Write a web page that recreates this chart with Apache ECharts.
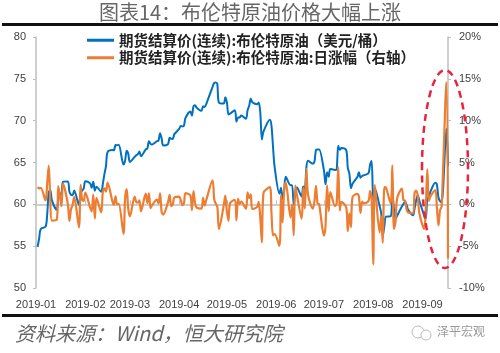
<!DOCTYPE html>
<html><head><meta charset="utf-8">
<script src="https://cdn.jsdelivr.net/npm/echarts@6/dist/echarts.min.js"></script>
<style>html,body{margin:0;padding:0;background:#fff}#c{width:500px;height:353px}</style>
</head><body><div id="c"></div>
<script>
const titleText = '图表14：布伦特原油价格大幅上涨';
const sourceText = '资料来源：Wind，恒大研究院';
const seriesNames = ['期货结算价(连续):布伦特原油（美元/桶）', '期货结算价(连续):布伦特原油:日涨幅（右轴）'];
const tickLabels = ['2019-01','2019-02','2019-03','2019-04','2019-05','2019-06','2019-07','2019-08','2019-09'];
const xRange = ['2019-01-01', '2019-09-17'];
const leftTicks = [50, 80, 5];
const rightTicks = [-10, 20, 5];

const dates = [
'2019-01-02','2019-01-03','2019-01-04','2019-01-07','2019-01-08','2019-01-09','2019-01-10','2019-01-11','2019-01-14','2019-01-15','2019-01-16','2019-01-17','2019-01-18','2019-01-21','2019-01-22','2019-01-23','2019-01-24','2019-01-25','2019-01-28','2019-01-29','2019-01-30','2019-01-31',
'2019-02-01','2019-02-04','2019-02-05','2019-02-06','2019-02-07','2019-02-08','2019-02-11','2019-02-12','2019-02-13','2019-02-14','2019-02-15','2019-02-18','2019-02-19','2019-02-20','2019-02-21','2019-02-22','2019-02-25','2019-02-26','2019-02-27','2019-02-28',
'2019-03-01','2019-03-04','2019-03-05','2019-03-06','2019-03-07','2019-03-08','2019-03-11','2019-03-12','2019-03-13','2019-03-14','2019-03-15','2019-03-18','2019-03-19','2019-03-20','2019-03-21','2019-03-22','2019-03-25','2019-03-26','2019-03-27','2019-03-28','2019-03-29',
'2019-04-01','2019-04-02','2019-04-03','2019-04-04','2019-04-05','2019-04-08','2019-04-09','2019-04-10','2019-04-11','2019-04-12','2019-04-15','2019-04-16','2019-04-17','2019-04-18','2019-04-22','2019-04-23','2019-04-24','2019-04-25','2019-04-26','2019-04-29','2019-04-30',
'2019-05-01','2019-05-02','2019-05-03','2019-05-06','2019-05-07','2019-05-08','2019-05-09','2019-05-10','2019-05-13','2019-05-14','2019-05-15','2019-05-16','2019-05-17','2019-05-20','2019-05-21','2019-05-22','2019-05-23','2019-05-24','2019-05-28','2019-05-29','2019-05-30','2019-05-31',
'2019-06-03','2019-06-04','2019-06-05','2019-06-06','2019-06-07','2019-06-10','2019-06-11','2019-06-12','2019-06-13','2019-06-14','2019-06-17','2019-06-18','2019-06-19','2019-06-20','2019-06-21','2019-06-24','2019-06-25','2019-06-26','2019-06-27','2019-06-28',
'2019-07-01','2019-07-02','2019-07-03','2019-07-04','2019-07-05','2019-07-08','2019-07-09','2019-07-10','2019-07-11','2019-07-12','2019-07-15','2019-07-16','2019-07-17','2019-07-18','2019-07-19','2019-07-22','2019-07-23','2019-07-24','2019-07-25','2019-07-26','2019-07-29','2019-07-30','2019-07-31',
'2019-08-01','2019-08-02','2019-08-05','2019-08-06','2019-08-07','2019-08-08','2019-08-09','2019-08-12','2019-08-13','2019-08-14','2019-08-15','2019-08-16','2019-08-19','2019-08-20','2019-08-21','2019-08-22','2019-08-23','2019-08-26','2019-08-27','2019-08-28','2019-08-29','2019-08-30',
'2019-09-02','2019-09-03','2019-09-04','2019-09-05','2019-09-06','2019-09-09','2019-09-10','2019-09-11','2019-09-12','2019-09-13','2019-09-16','2019-09-17'
];

const brentPrice = [
54.91,55.95,57.06,57.33,58.72,61.44,61.68,60.48,59.35,60.64,61.32,61.18,62.70,62.74,61.50,61.14,61.09,61.64,59.93,61.32,61.65,61.89,
62.75,62.51,61.98,62.69,61.63,62.10,61.51,62.42,63.61,64.57,66.25,66.50,66.45,67.08,67.07,67.12,64.76,65.21,66.39,66.03,
65.07,65.67,65.86,65.99,66.30,65.74,66.58,66.67,67.55,67.23,67.16,67.54,67.61,68.50,67.86,67.03,67.21,67.97,67.83,67.82,68.39,
69.01,69.37,69.31,69.40,70.34,71.10,70.61,71.73,71.83,71.55,71.18,71.72,71.62,71.97,74.04,74.51,74.57,74.35,72.15,72.04,72.80,
72.18,70.75,70.85,71.24,69.88,70.37,70.39,70.62,70.23,71.24,71.77,72.62,72.21,71.97,72.18,70.99,67.76,68.69,70.11,69.45,66.87,64.49,
61.28,61.97,60.63,61.67,63.29,62.29,62.29,59.97,61.31,62.01,60.94,62.14,61.82,64.45,65.20,64.86,65.05,66.49,66.55,66.55,
64.06,62.40,63.82,63.30,64.23,64.11,64.16,67.01,66.52,66.72,66.48,64.35,63.66,61.93,62.47,63.26,63.83,63.18,63.39,63.46,63.71,64.72,65.17,
60.50,61.89,59.81,58.94,56.23,57.38,58.53,58.57,61.30,59.48,58.23,58.64,59.74,60.03,60.30,59.92,59.34,58.70,59.51,60.49,61.08,60.43,
58.66,58.26,60.70,60.95,61.54,62.59,62.38,60.81,60.38,60.22,69.02,64.55
];

const dailyChange = [
2.06,1.89,1.98,0.47,2.42,4.63,0.39,-1.95,-1.87,2.17,1.12,-0.23,2.48,0.06,-1.98,-0.59,-0.08,0.90,-2.77,2.32,0.54,0.39,
1.39,-0.38,-0.85,1.15,-1.69,0.76,-0.95,1.48,1.91,1.51,2.60,0.38,-0.08,0.95,-0.01,0.07,-3.52,0.69,1.81,-0.54,
-1.45,0.92,0.29,0.20,0.47,-0.84,1.28,0.14,1.32,-0.47,-0.10,0.57,0.10,1.32,-0.93,-1.22,0.27,1.13,-0.21,-0.01,0.84,
0.91,0.52,-0.09,0.13,1.35,1.08,-0.69,1.59,0.14,-0.39,-0.52,0.76,-0.14,0.49,2.88,0.63,0.08,-0.30,-2.96,-0.15,1.05,
-0.85,-1.98,0.14,0.55,-1.91,0.70,0.03,0.33,-0.55,1.44,0.74,1.18,-0.56,-0.33,0.29,-1.65,-4.55,1.37,2.07,-0.94,-3.71,-3.56,
-4.98,1.13,-2.16,1.72,2.63,-1.58,0.00,-3.72,2.23,1.14,-1.73,1.97,-0.51,4.25,1.16,-0.52,0.29,2.21,0.09,0.00,
-3.74,-2.59,2.28,-0.81,1.47,-0.19,0.08,4.44,-0.73,0.30,-0.36,-3.20,-1.07,-2.72,0.87,1.26,0.90,-1.02,0.33,0.11,0.39,1.59,0.70,
-7.17,2.30,-3.36,-1.45,-4.60,2.05,2.00,0.07,4.66,-2.97,-2.10,0.70,1.88,0.49,0.45,-0.63,-0.97,-1.08,1.38,1.65,0.98,-1.06,
-2.93,-0.68,4.19,0.41,0.97,1.71,-0.34,-2.52,-0.71,-0.26,14.61,-6.48
];

function ts(s) { const p = s.split('-'); return new Date(+p[0], +p[1] - 1, +(p[2] || 1)).getTime(); }
const tickValues = tickLabels.map(ts);

const chart = echarts.init(document.getElementById('c'), null, { renderer: 'canvas' });
const axisGray = '#BFBFBF';
const labelColor = '#404040';
const numFont = 'Liberation Sans';

chart.setOption({
  animation: false,
  title: {
    text: titleText, left: 'center', top: -3,
    textStyle: { fontSize: 20, fontWeight: 'normal', color: '#666', fontFamily: 'Noto Sans CJK SC' }
  },
  legend: {
    data: seriesNames, orient: 'vertical', left: 82, top: 28,
    itemWidth: 27, itemHeight: 3, itemGap: 3, icon: 'rect',
    textStyle: { fontSize: 14.5, fontWeight: 'bold', color: '#222', fontFamily: 'Noto Sans CJK SC' }
  },
  grid: { left: 36, right: 52, top: 37, bottom: 65, containLabel: false },
  xAxis: {
    type: 'value', min: ts(xRange[0]), max: ts(xRange[1]),
    axisLine: { lineStyle: { color: axisGray, width: 1.5 } },
    axisTick: { show: true, inside: true, length: 4, lineStyle: { color: axisGray }, customValues: tickValues },
    splitLine: { show: false },
    axisLabel: {
      customValues: tickValues, margin: 11, color: labelColor, fontSize: 11, fontFamily: numFont,
      hideOverlap: false,
      formatter: function (v) { const i = tickValues.indexOf(v); return i >= 0 ? tickLabels[i] : ''; }
    }
  },
  yAxis: [
    {
      type: 'value', min: leftTicks[0], max: leftTicks[1], interval: leftTicks[2],
      axisLine: { show: true, lineStyle: { color: axisGray, width: 1.5 } },
      axisTick: { show: true, length: 3, lineStyle: { color: axisGray } },
      splitLine: { show: false },
      axisLabel: { color: labelColor, fontSize: 11, fontFamily: numFont, margin: 10 }
    },
    {
      type: 'value', min: rightTicks[0], max: rightTicks[1], interval: rightTicks[2],
      axisLine: { show: true, lineStyle: { color: axisGray, width: 1.5 } },
      axisTick: { show: true, length: 3, lineStyle: { color: axisGray } },
      splitLine: { show: false },
      axisLabel: { color: labelColor, fontSize: 11, fontFamily: numFont, margin: 11, formatter: '{value}%' }
    }
  ],
  series: [
    {
      name: seriesNames[0], type: 'line', yAxisIndex: 0, showSymbol: false, smooth: 0.3,
      data: dates.map((d, i) => [ts(d), brentPrice[i]]),
      lineStyle: { color: '#0070C0', width: 2 }, itemStyle: { color: '#0070C0' }, z: 2
    },
    {
      name: seriesNames[1], type: 'line', yAxisIndex: 1, showSymbol: false, smooth: 0.3,
      data: dates.map((d, i) => [ts(d), dailyChange[i]]),
      lineStyle: { color: '#ED7D31', width: 2.2 }, itemStyle: { color: '#ED7D31' }, z: 3
    }
  ],
  graphic: [
    { type: 'rect', shape: { x: 2, y: 23, width: 496, height: 3 }, style: { fill: '#111' } },
    { type: 'rect', shape: { x: 2, y: 314, width: 496, height: 3 }, style: { fill: '#111' } },
    { type: 'ellipse', shape: { cx: 445, cy: 169, rx: 23, ry: 99 },
      style: { fill: null, stroke: '#E8233C', lineWidth: 2.5, lineDash: [7, 5] }, z: 100 },
    { type: 'text', left: 15, top: 323,
      style: { text: sourceText, font: 'italic 20px "Noto Sans CJK SC"', fill: '#666' } },
    { type: 'text', left: 437, top: 325,
      style: { text: '泽平宏观', font: '12px "Noto Sans CJK SC"', fill: '#999' } },
    { type: 'circle', shape: { cx: 418, cy: 332, r: 6 }, style: { fill: null, stroke: '#bbb', lineWidth: 1 } },
    { type: 'circle', shape: { cx: 426, cy: 335, r: 5 }, style: { fill: '#fff', stroke: '#bbb', lineWidth: 1 } }
  ]
});
</script></body></html>
